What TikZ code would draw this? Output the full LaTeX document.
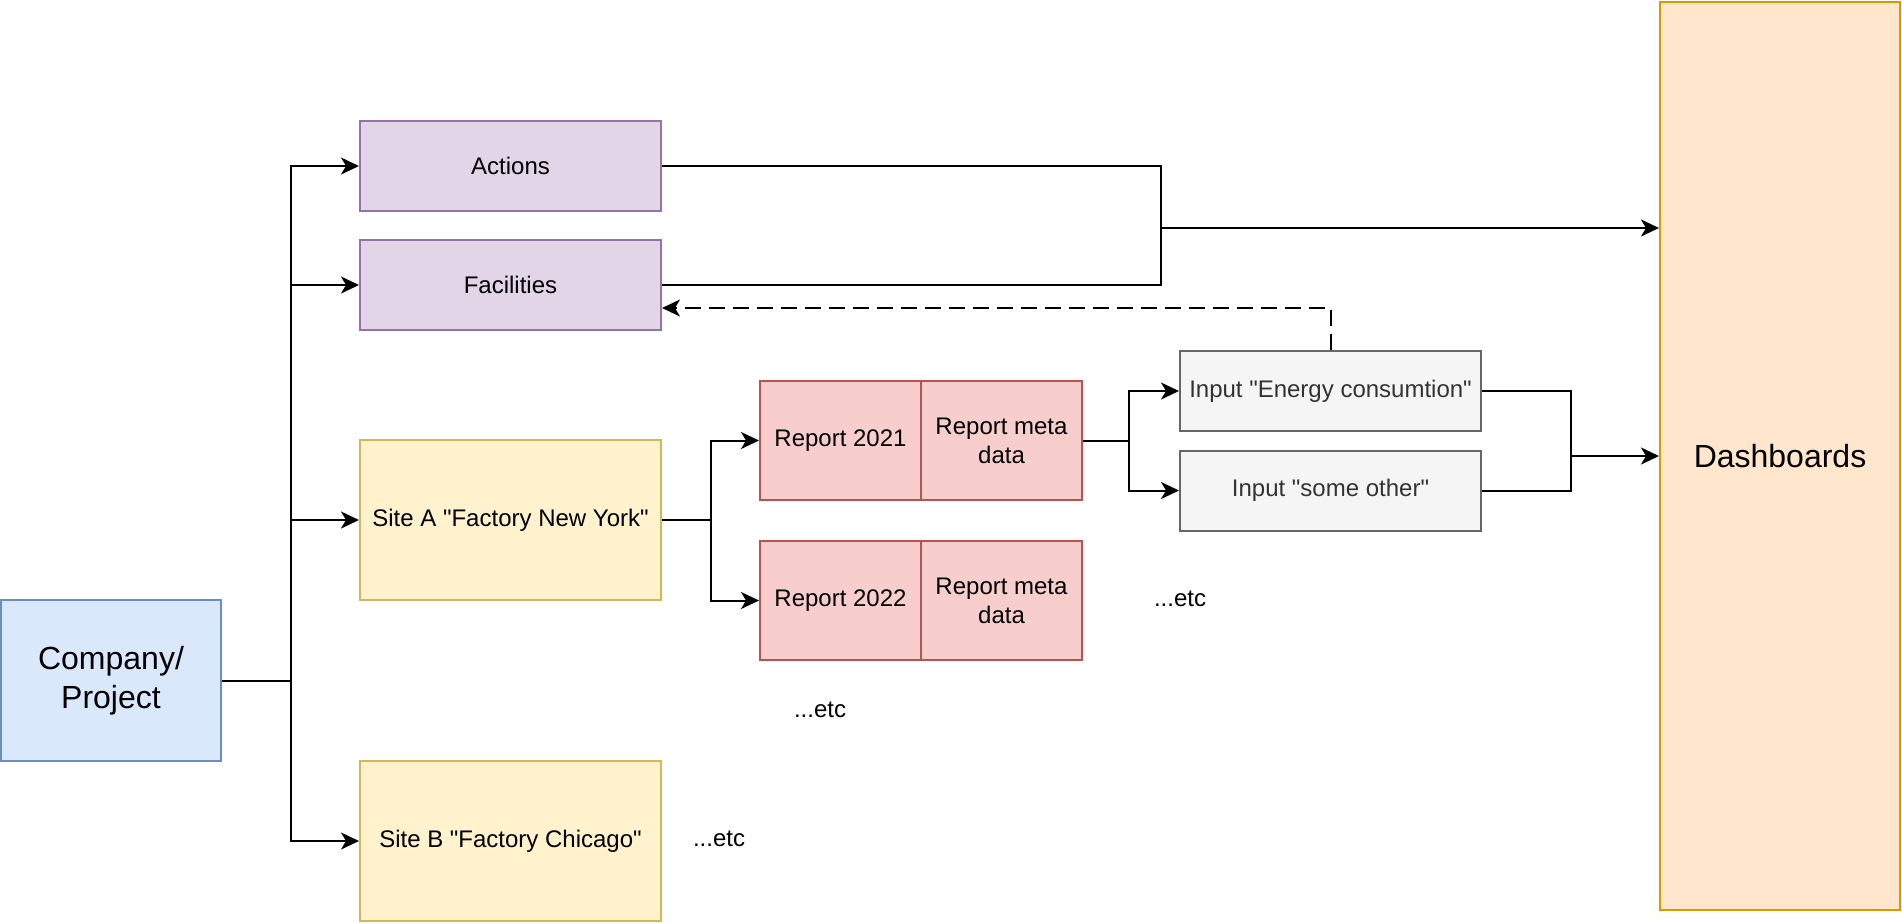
\documentclass[tikz,border=0pt]{standalone}
\usepackage{fontspec}
\setmainfont{Liberation Sans}
\usetikzlibrary{arrows.meta, positioning}

\definecolor{blueline}{HTML}{6C8EBF}
\definecolor{bluefill}{HTML}{DAE8FC}
\definecolor{purpleline}{HTML}{9673A6}
\definecolor{purplefill}{HTML}{E1D5E7}
\definecolor{yellowline}{HTML}{D6B656}
\definecolor{yellowfill}{HTML}{FFF2CC}
\definecolor{redline}{HTML}{B85450}
\definecolor{redfill}{HTML}{F8CECC}
\definecolor{greyline}{HTML}{666666}
\definecolor{greyfill}{HTML}{F5F5F5}
\definecolor{greytext}{HTML}{333333}
\definecolor{orangeline}{HTML}{D79B00}
\definecolor{orangefill}{HTML}{FFE6CC}

\newcommand{\qq}{\textquotedbl{}}

\begin{document}
\begin{tikzpicture}[x=1pt, y=-1pt, font=\fontsize{24}{29}\selectfont]
	% Define style
	\tikzset{
		box/.style={rectangle, line width=2pt, align=center, inner sep=0pt},
		company/.style={box, draw=blueline, fill=bluefill, minimum width=220pt, minimum height=161pt, font=\fontsize{32}{39}\selectfont},
		topic/.style={box, draw=purpleline, fill=purplefill, minimum width=301pt, minimum height=90pt},
		site/.style={box, draw=yellowline, fill=yellowfill, minimum width=301pt, minimum height=160pt},
		report/.style={box, draw=redline, fill=redfill, minimum width=161pt, minimum height=119pt},
		input/.style={box, draw=greyline, fill=greyfill, text=greytext, minimum width=301pt, minimum height=80pt},
		board/.style={box, draw=orangeline, fill=orangefill, minimum width=240pt, minimum height=908pt, font=\fontsize{32}{39}\selectfont},
		link/.style={line width=2pt},
		arrow/.style={line width=2pt, -{Stealth[length=18pt, width=17pt, inset=5pt]}},
		dashedarrow/.style={arrow, dash pattern=on 16pt off 8pt}
	}
	\useasboundingbox (0,0) rectangle (1902,922);

	% Define blocks
	\node (comp) [company] at (111,680.5) {Company/\\Project};
	\node (actions) [topic] at (510.5,166) {Actions};
	\node (facilities) [topic] at (510.5,285) {Facilities};
	\node (siteA) [site] at (510.5,520) {Site A \qq Factory New York\qq};
	\node (siteB) [site] at (510.5,841) {Site B \qq Factory Chicago\qq};
	\node (rep21) [report] at (840.5,440.5) {Report 2021};
	\node (meta21) [report, right=-2pt of rep21] {Report meta\\data};
	\node (rep22) [report] at (840.5,600.5) {Report 2022};
	\node (meta22) [report, right=-2pt of rep22] {Report meta\\data};
	\node (energy) [input] at (1330.5,391) {Input \qq Energy consumtion\qq};
	\node (other) [input] at (1330.5,490.5) {Input \qq some other\qq};
	\node (dashboards) [board] at (1780,456) {Dashboards};
	\node (etcA) at (1180,599) {...etc};
	\node (etcB) at (820,710) {...etc};
	\node (etcC) at (719,839) {...etc};

	% Define junctions
	\coordinate (trunk) at (291,680.5);
	\coordinate (merge) at (1161,228);
	\coordinate (splitA) at (711,520);
	\coordinate (splitR) at (1129,440.5);
	\coordinate (join) at (1571,456);

	% Define arrows
	\draw [link] (comp.east) -- (trunk);
	\draw [arrow] (trunk) |- (actions.west);
	\draw [arrow] (trunk) |- (facilities.west);
	\draw [arrow] (trunk) |- (siteA.west);
	\draw [arrow] (trunk) |- (siteB.west);
	\draw [link] (actions.east) -| (merge);
	\draw [link] (facilities.east) -| (merge);
	\draw [arrow] (merge) -- (merge -| dashboards.west);
	\draw [dashedarrow] (energy.north) |- ([yshift=-23pt]facilities.east);
	\draw [link] (siteA.east) -- (splitA);
	\draw [arrow] (splitA) |- (rep21.west);
	\draw [arrow] (splitA) |- (rep22.west);
	\draw [link] (meta21.east) -- (splitR);
	\draw [arrow] (splitR) |- (energy.west);
	\draw [arrow] (splitR) |- (other.west);
	\draw [link] (energy.east) -| (join);
	\draw [link] (other.east) -| (join);
	\draw [arrow] (join) -- (join -| dashboards.west);
\end{tikzpicture}
\end{document}
